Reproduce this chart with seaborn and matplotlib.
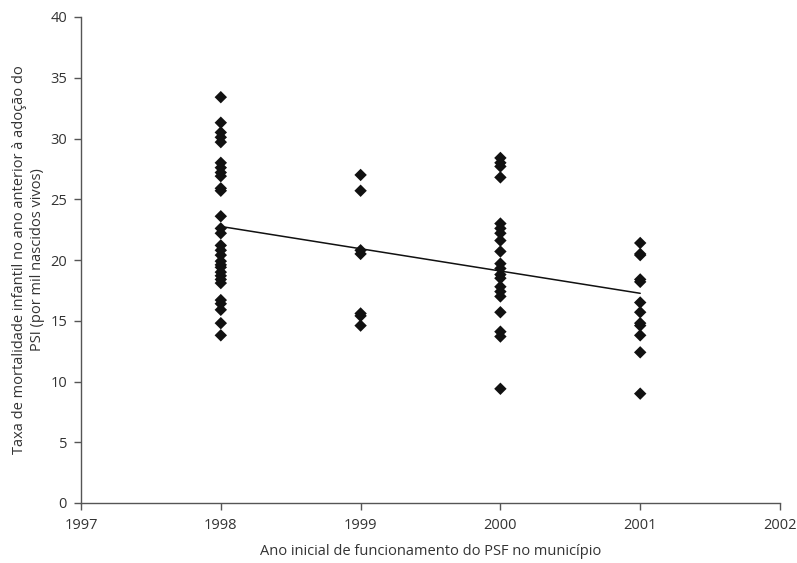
import matplotlib
matplotlib.use("Agg")
import matplotlib.pyplot as plt
import seaborn as sns
import pandas as pd

y1998 = [33.4, 31.3, 30.5, 30.1, 29.7, 28.0, 27.6, 27.2, 26.9, 25.9, 25.7, 23.6,
         22.6, 22.2, 21.2, 20.8, 20.4, 19.9, 19.6, 19.4, 19.0, 18.7, 18.4, 18.1,
         16.7, 16.4, 15.9, 14.8, 13.8]
y1999 = [27.0, 25.7, 20.8, 20.5, 15.6, 15.4, 14.6]
y2000 = [28.4, 28.0, 27.7, 26.8, 23.0, 22.6, 22.2, 21.6, 20.7, 19.7, 19.3, 18.8,
         18.5, 17.8, 17.4, 17.0, 15.7, 14.1, 13.7, 9.4]
y2001 = [21.4, 20.5, 20.4, 18.4, 18.2, 16.5, 15.7, 14.8, 14.6, 13.8, 12.4, 9.0]

years = [1998] * len(y1998) + [1999] * len(y1999) + [2000] * len(y2000) + [2001] * len(y2001)
rates = y1998 + y1999 + y2000 + y2001
df = pd.DataFrame({"ano": years, "taxa": rates})

sns.set_style("white")
plt.rcParams["font.family"] = ["Open Sans", "DejaVu Sans"]

fig = plt.figure(figsize=(7.97, 5.63), dpi=100)
ax = fig.add_axes([81 / 797, 1 - 503 / 563, (780 - 81) / 797, (503 - 17) / 563])

sns.regplot(data=df, x="ano", y="taxa", ax=ax, ci=None, truncate=True,
            marker="D",
            scatter_kws={"s": 40, "color": "#111111", "alpha": 1.0,
                         "edgecolors": "none", "zorder": 3},
            line_kws={"color": "#111111", "linewidth": 1.1, "zorder": 2})

ax.set_xlim(1997, 2002)
ax.set_ylim(0, 40)
ax.set_xticks([1997, 1998, 1999, 2000, 2001, 2002])
ax.set_xticklabels(["1997", "1998", "1999", "2000", "2001", "2002"])
ax.set_yticks(range(0, 41, 5))

for s in ["top", "right"]:
    ax.spines[s].set_visible(False)
for s in ["left", "bottom"]:
    ax.spines[s].set_color("#555555")
    ax.spines[s].set_linewidth(1.0)

ax.tick_params(axis="both", which="major", bottom=True, left=True, direction="out",
               length=5, width=1, color="#555555",
               labelsize=10.5, labelcolor="#333333", pad=5)
ax.tick_params(axis="x", pad=6)

ax.set_xlabel("Ano inicial de funcionamento do PSF no município", fontsize=10.5,
              color="#333333", labelpad=8)
ax.set_ylabel("Taxa de mortalidade infantil no ano anterior à adoção do\nPSI (por mil nascidos vivos)",
              fontsize=10.5, color="#333333", labelpad=4, linespacing=1.25)

fig.savefig("out.png", dpi=100)
